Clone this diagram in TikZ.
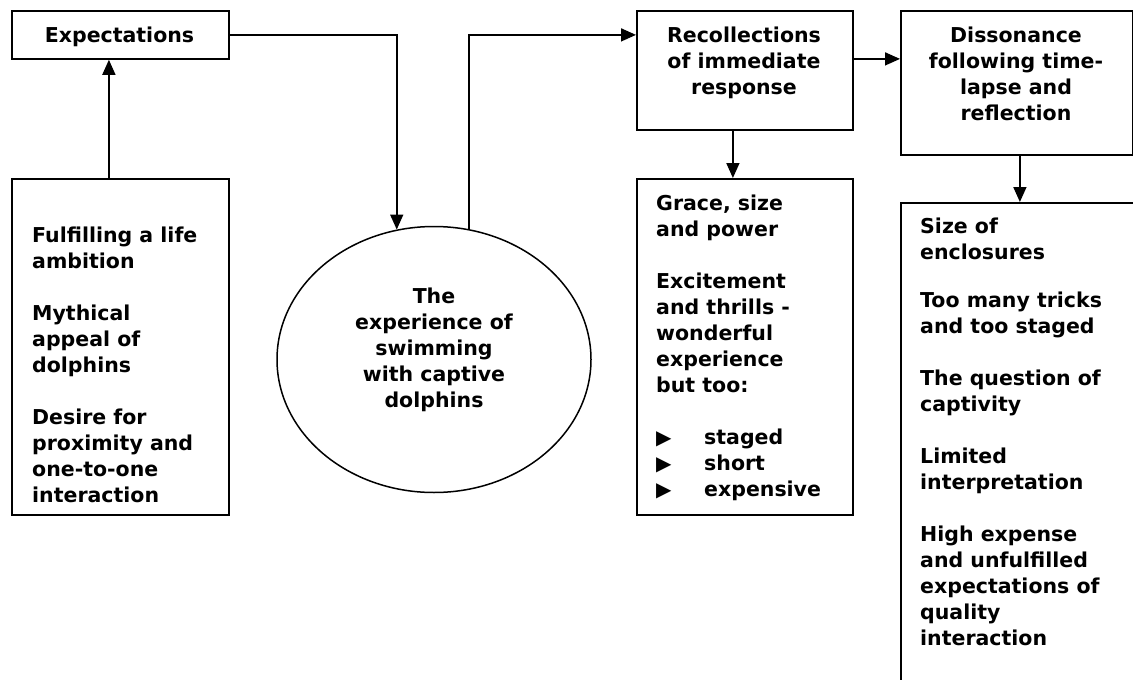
\documentclass[tikz,border=0pt]{standalone}
\usepackage{fontspec}
\setmainfont{DejaVu Sans}
\usetikzlibrary{arrows.meta,shapes.geometric}
\newcommand{\bulg}{\makebox[48pt][l]{\fontsize{20}{26}\selectfont ▶}}
\begin{document}
\begin{tikzpicture}[x=1pt,y=-1pt,
  box/.style={draw, line width=1.8pt, inner sep=0pt, anchor=north west},
  conn/.style={line width=1.6pt},
  arr/.style={conn, -{Triangle[length=15pt,width=13pt]}},
  lbl/.style={inner sep=0pt, anchor=base west, font=\fontsize{20.5}{26}\selectfont\bfseries},
  clbl/.style={inner sep=0pt, anchor=base, font=\fontsize{20.5}{26}\selectfont\bfseries},
]
\clip (0,0) rectangle (1133,680);
\fill[white] (0,0) rectangle (1133,680);

% boxes
\node[box, minimum width=217pt, minimum height=48pt] (exp) at (11,10) {};
\node[box, minimum width=217pt, minimum height=336pt] (lbox) at (11,178) {};
\node[draw, ellipse, line width=1.5pt, inner sep=0pt,
      minimum width=314pt, minimum height=266pt] (exper) at (434,359.5) {};
\node[box, minimum width=216pt, minimum height=119pt] (rec) at (636,10) {};
\node[box, minimum width=232pt, minimum height=144pt] (dis) at (900,10) {};
\node[box, minimum width=216pt, minimum height=336pt] (grace) at (636,178) {};
\node[box, minimum width=260pt, minimum height=520pt] (refl) at (900,202) {};

% texts
\node[clbl] (xtext) at (119.5,42) {Expectations};
\node[lbl] (ltext) at (32,242) {\parbox[t]{195pt}{\raggedright
  Fulfilling a life\\ambition\\[26pt]Mythical\\appeal of\\dolphins\\[26pt]Desire for\\proximity and\\one-to-one\\interaction}};
\node[clbl] (etext) at (434,303) {\parbox[t]{240pt}{\centering
  The\\experience of\\swimming\\with captive\\dolphins}};
\node[clbl] (rtext) at (744,42) {\parbox[t]{210pt}{\centering
  Recollections\\of immediate\\response}};
\node[clbl] (dtext) at (1016,42) {\parbox[t]{230pt}{\centering
  Dissonance\\following time-\\lapse and\\reflection}};
\node[lbl] (gtext) at (656,210) {\parbox[t]{195pt}{\raggedright
  Grace, size\\and power\\[26pt]Excitement\\and thrills -\\wonderful\\experience\\but too:\\[26pt]\bulg staged\\\bulg short\\\bulg expensive}};
\node[lbl] (ftext) at (920,233) {\parbox[t]{220pt}{\raggedright
  Size of\\enclosures\\[22pt]Too many tricks\\and too staged\\[26pt]The question of\\captivity\\[26pt]Limited\\interpretation\\[26pt]High expense\\and unfulfilled\\expectations of\\quality\\interaction}};

% connectors
\draw[arr] ([xshift=-11.5pt]lbox.north) -- ([xshift=-11.5pt]exp.south);
\draw[arr] (exp.east) -| (exper.106.4);
\draw[arr] (exper.75.3) |- ([yshift=35.5pt]rec.west);
\draw[arr] ([yshift=11.5pt]rec.east) -- ([yshift=11.5pt]rec.east -| dis.west);
\draw[arr] ([xshift=-12pt]rec.south) -- ([xshift=-12pt]rec.south |- grace.north);
\draw[arr] ([xshift=3pt]dis.south) -- ([xshift=3pt]dis.south |- refl.north);
\end{tikzpicture}
\end{document}
